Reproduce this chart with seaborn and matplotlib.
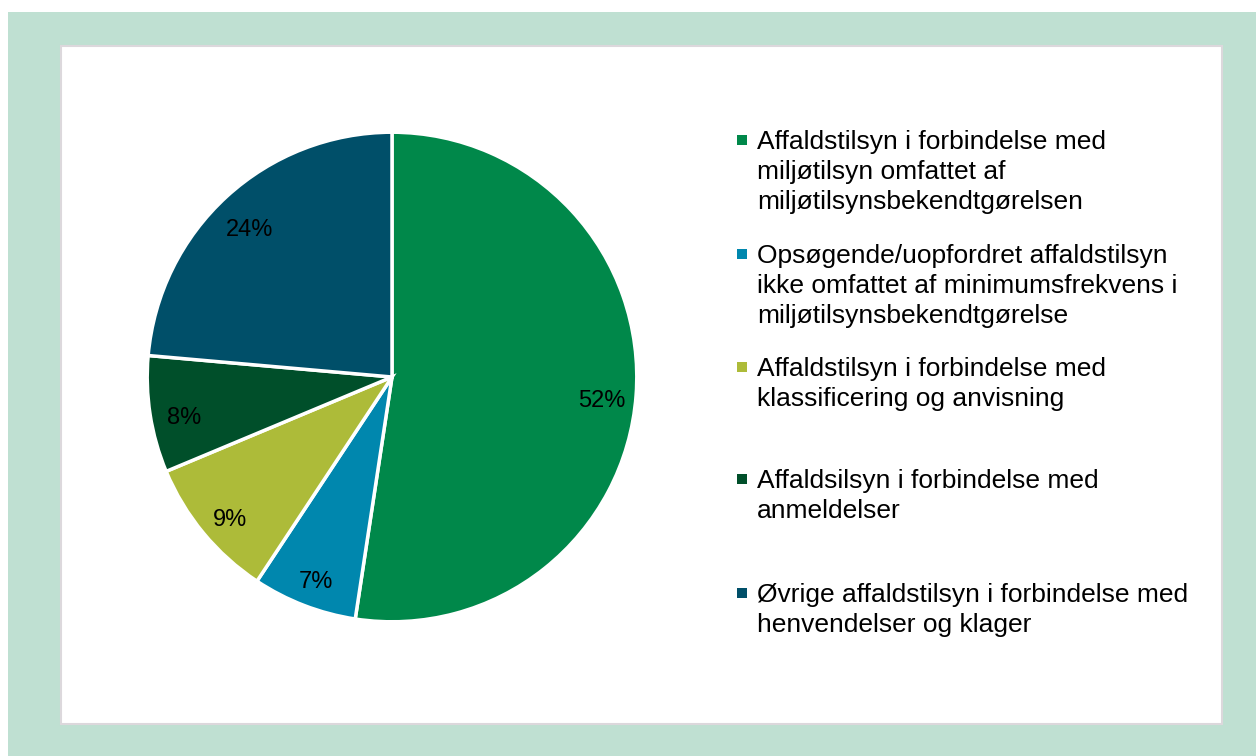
import matplotlib
matplotlib.use("Agg")
from matplotlib import pyplot as plt
from matplotlib.patches import Rectangle
import numpy as np
import seaborn as sns

# data
categories = [
    "Affaldstilsyn i forbindelse med\nmiljøtilsyn omfattet af\nmiljøtilsynsbekendtgørelsen",
    "Opsøgende/uopfordret affaldstilsyn\nikke omfattet af minimumsfrekvens i\nmiljøtilsynsbekendtgørelse",
    "Affaldstilsyn i forbindelse med\nklassificering og anvisning",
    "Affaldsilsyn i forbindelse med\nanmeldelser",
    "Øvrige affaldstilsyn i forbindelse med\nhenvendelser og klager",
]
shares = [52.4, 6.9, 9.4, 7.7, 23.6]
pct_labels = ["52%", "7%", "9%", "8%", "24%"]
colors = ["#00884A", "#0087AE", "#ADBB39", "#004F2A", "#004F69"]

sns.set_theme(style="white")
plt.rcParams["font.family"] = ["Liberation Sans", "DejaVu Sans"]
palette = sns.color_palette(colors)

W, H = 1256, 756
fig = plt.figure(figsize=(W / 100, H / 100), dpi=100)
fig.patch.set_facecolor("white")

# background panels
fig.patches.append(Rectangle((8 / W, 0), 1 - 8 / W, (H - 12) / H, transform=fig.transFigure,
                             facecolor="#BFE0D2", edgecolor="none", zorder=-2))
fig.patches.append(Rectangle((61 / W, (H - 724) / H), (1222 - 61) / W, (724 - 46) / H,
                             transform=fig.transFigure, facecolor="white",
                             edgecolor="#DCD8DC", linewidth=1.5, zorder=-1))

# pie
cx, cy, r = 392, 377, 246
ax = fig.add_axes([(cx - r) / W, (H - cy - r) / H, 2 * r / W, 2 * r / H])
ax.set_zorder(2)
ax.patch.set_alpha(0)
wedges, texts = ax.pie(shares, colors=palette, startangle=90, counterclock=False,
                       wedgeprops=dict(edgecolor="white", linewidth=2.5))
for w, lab in zip(wedges, pct_labels):
    ang = np.deg2rad((w.theta1 + w.theta2) / 2)
    ax.text(0.86 * np.cos(ang), 0.86 * np.sin(ang) - 0.035, lab, ha="center", va="center",
            fontsize=17, color="black")
ax.set_xlim(-1.005, 1.005)
ax.set_ylim(-1.005, 1.005)
ax.set_aspect("equal")
ax.axis("off")

# legend drawn by hand to keep the uneven spacing of the original
first_line_y = [140, 254, 367, 479, 593]
line_gap = 30
for lab, col, y0 in zip(categories, palette, first_line_y):
    fig.patches.append(Rectangle((737 / W, (H - y0 - 5) / H), 10 / W, 10 / H,
                                 transform=fig.transFigure, facecolor=col, edgecolor="none"))
    for i, line in enumerate(lab.split("\n")):
        fig.text(757 / W, (H - (y0 + i * line_gap + 9)) / H, line, ha="left", va="baseline",
                 fontsize=19, color="black")

fig.savefig("out.png", dpi=100)
